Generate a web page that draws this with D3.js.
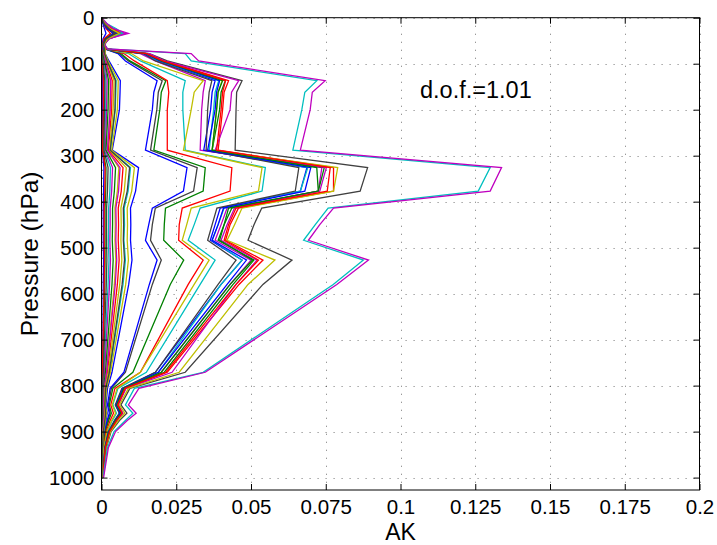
<!DOCTYPE html>
<html>
<head>
<meta charset="utf-8">
<script src="https://cdn.jsdelivr.net/npm/d3@7"></script>
<style>
  body { margin: 0; background: #fff; }
  svg { display: block; font-family: "Liberation Sans", Arial, Helvetica, sans-serif; }
</style>
</head>
<body>
<svg id="chart" width="717" height="545"></svg>
<script>
// Pressure levels (hPa) shared by every kernel row
const pressure = [0, 14, 24, 34, 46, 58, 68, 78, 94, 137, 162, 200, 288, 326, 377, 414, 450, 484, 527, 580, 771, 806, 842, 860, 876, 900, 935, 1000];

const xTicks = [0, 0.025, 0.05, 0.075, 0.1, 0.125, 0.15, 0.175, 0.2];
const yTicks = [0, 100, 200, 300, 400, 500, 600, 700, 800, 900, 1000];
const dofText = "d.o.f.=1.01";

// Averaging kernel rows, one per retrieval level
const akRows = [
  [0, 0.0005, 0.001, 0.0015, 0.0005, 0.0003, 0.0003, 0.0002, 0.0003, 0.0004, 0.0004, 0.0004, 0.0003, 0.0008, 0.0007, 0.0006, 0.0006, 0.0006, 0.0007, 0.0006, 0.0004, 0.0003, 0.0003, 0.0003, 0.0003, 0.0002, 0.0001, 0],
  [0, 0.001, 0.002, 0.004, 0.001, 0.0005, 0.001, 0.0003, 0.0004, 0.0008, 0.0008, 0.0007, 0.0005, 0.0015, 0.0014, 0.0012, 0.0012, 0.0012, 0.0012, 0.0011, 0.0004, 0.0003, 0.0002, 0.0003, 0.0002, 0.0001, 0.0001, 0],
  [0, 0.0008, 0.0015, 0.003, 0.0008, 0.0004, 0.0006, 0.0002, 0.0003, 0.0006, 0.0006, 0.0006, 0.0004, 0.0012, 0.0011, 0.0009, 0.0009, 0.0009, 0.001, 0.0009, 0.0003, 0.0002, 0.0002, 0.0002, 0.0002, 0.0001, 0.0001, 0],
  [0, 0.001, 0.003, 0.005, 0.0015, 0.0006, 0.001, 0.0005, 0.0008, 0.0015, 0.0015, 0.0014, 0.001, 0.003, 0.0028, 0.0024, 0.0024, 0.0023, 0.0025, 0.0022, 0.0008, 0.0005, 0.0004, 0.0005, 0.0004, 0.0002, 0.0001, 0],
  [0, 0.0015, 0.0035, 0.006, 0.002, 0.0008, 0.0012, 0.0006, 0.001, 0.0019, 0.0018, 0.0017, 0.0013, 0.0037, 0.0034, 0.0029, 0.0029, 0.0028, 0.003, 0.0027, 0.001, 0.0006, 0.0004, 0.0006, 0.0005, 0.0003, 0.0002, 0.0001],
  [0, 0.001, 0.003, 0.0055, 0.002, 0.0008, 0.0012, 0.0008, 0.0012, 0.0029, 0.0029, 0.0028, 0.002, 0.0058, 0.0053, 0.0045, 0.0046, 0.0045, 0.0048, 0.0043, 0.0016, 0.0009, 0.0007, 0.0009, 0.0007, 0.0004, 0.0002, 0.0001],
  [0, 0.0008, 0.002, 0.004, 0.0012, 0.0005, 0.0008, 0.0003, 0.0005, 0.0011, 0.0011, 0.001, 0.0008, 0.0022, 0.002, 0.0017, 0.0017, 0.0017, 0.0018, 0.0016, 0.0006, 0.0003, 0.0003, 0.0003, 0.0003, 0.0002, 0.0001, 0],
  [0, 0.001, 0.002, 0.004, 0.0015, 0.0008, 0.001, 0.0012, 0.0025, 0.0063, 0.0062, 0.006, 0.0036, 0.0124, 0.0114, 0.0097, 0.0098, 0.0097, 0.0102, 0.0091, 0.0035, 0.002, 0.0015, 0.0019, 0.0015, 0.0008, 0.0005, 0.0002],
  [0, 0.001, 0.0025, 0.005, 0.0015, 0.0006, 0.001, 0.0005, 0.001, 0.0024, 0.0023, 0.0022, 0.0015, 0.0047, 0.0043, 0.0037, 0.0037, 0.0036, 0.0039, 0.0035, 0.0013, 0.0007, 0.0006, 0.0007, 0.0006, 0.0003, 0.0002, 0.0001],
  [0, 0.0012, 0.003, 0.006, 0.002, 0.0008, 0.0012, 0.0008, 0.0015, 0.0036, 0.0035, 0.0034, 0.0023, 0.0072, 0.0066, 0.0056, 0.0057, 0.0056, 0.0059, 0.0053, 0.002, 0.0011, 0.0009, 0.0011, 0.0009, 0.0005, 0.0003, 0.0001],
  [0, 0.001, 0.0025, 0.005, 0.0018, 0.0007, 0.001, 0.001, 0.002, 0.0049, 0.0048, 0.0046, 0.003, 0.0097, 0.0089, 0.0076, 0.0077, 0.0075, 0.008, 0.0072, 0.0027, 0.0015, 0.0012, 0.0015, 0.0012, 0.0006, 0.0004, 0.0001],
  [0, 0.0015, 0.004, 0.007, 0.0025, 0.001, 0.0015, 0.0008, 0.0013, 0.0031, 0.003, 0.0029, 0.002, 0.0062, 0.0057, 0.0048, 0.0049, 0.0048, 0.0051, 0.0046, 0.0017, 0.0009, 0.0007, 0.0009, 0.0007, 0.0004, 0.0002, 0.0001],
  [0, 0.001, 0.003, 0.0055, 0.002, 0.0008, 0.0012, 0.001, 0.0018, 0.0042, 0.0041, 0.0039, 0.0027, 0.0083, 0.0076, 0.0065, 0.0066, 0.0065, 0.0068, 0.0061, 0.0023, 0.0012, 0.001, 0.0012, 0.001, 0.0005, 0.0003, 0.0001],
  [0, 0.001, 0.003, 0.006, 0.002, 0.001, 0.0015, 0.006, 0.009, 0.0203, 0.019, 0.0185, 0.0164, 0.032, 0.0308, 0.018, 0.017, 0.0164, 0.02, 0.017, 0.008, 0.0033, 0.0023, 0.0029, 0.0021, 0.0011, 0.0006, 0.0002],
  [0, 0.0008, 0.002, 0.005, 0.0015, 0.0008, 0.0012, 0.0055, 0.008, 0.0186, 0.0175, 0.017, 0.0147, 0.0286, 0.0274, 0.017, 0.0158, 0.0147, 0.0186, 0.016, 0.0075, 0.0029, 0.002, 0.0026, 0.0019, 0.001, 0.0005, 0.0002],
  [0, 0.001, 0.0025, 0.0055, 0.0018, 0.0008, 0.0012, 0.0065, 0.0095, 0.0215, 0.02, 0.0195, 0.0175, 0.0347, 0.034, 0.0214, 0.021, 0.0208, 0.0275, 0.023, 0.0105, 0.0038, 0.0026, 0.0033, 0.0024, 0.0013, 0.0007, 0.0002],
  [0, 0.0012, 0.003, 0.006, 0.002, 0.001, 0.0015, 0.0075, 0.011, 0.022, 0.0225, 0.022, 0.022, 0.0436, 0.043, 0.027, 0.026, 0.0258, 0.034, 0.029, 0.013, 0.0045, 0.0031, 0.004, 0.0029, 0.0015, 0.0008, 0.0002],
  [0, 0.001, 0.003, 0.0065, 0.002, 0.001, 0.0015, 0.009, 0.013, 0.028, 0.0272, 0.0272, 0.028, 0.0548, 0.0537, 0.033, 0.031, 0.029, 0.038, 0.033, 0.015, 0.0055, 0.0038, 0.005, 0.0036, 0.0019, 0.0009, 0.0003],
  [0, 0.0015, 0.004, 0.008, 0.0025, 0.001, 0.0018, 0.013, 0.018, 0.0347, 0.034, 0.0335, 0.033, 0.0737, 0.0725, 0.042, 0.04, 0.038, 0.05, 0.043, 0.02, 0.0075, 0.005, 0.0066, 0.0048, 0.0026, 0.0013, 0.0004],
  [0, 0.0012, 0.0035, 0.007, 0.0022, 0.001, 0.0015, 0.01, 0.014, 0.034, 0.031, 0.03, 0.0274, 0.0537, 0.0525, 0.03, 0.0285, 0.027, 0.036, 0.031, 0.013, 0.0052, 0.0036, 0.0047, 0.0034, 0.0018, 0.0009, 0.0003],
  [0, 0.0012, 0.003, 0.006, 0.002, 0.001, 0.0015, 0.016, 0.022, 0.047, 0.0452, 0.045, 0.0447, 0.089, 0.0865, 0.0536, 0.051, 0.049, 0.0637, 0.054, 0.028, 0.0095, 0.0065, 0.0085, 0.006, 0.0032, 0.0016, 0.0005],
  [0, 0.001, 0.0025, 0.005, 0.0018, 0.0008, 0.0012, 0.014, 0.019, 0.038, 0.037, 0.0365, 0.0342, 0.0687, 0.0665, 0.0397, 0.038, 0.0364, 0.047, 0.04, 0.018, 0.007, 0.0048, 0.006, 0.0045, 0.0024, 0.0012, 0.0003],
  [0, 0.0012, 0.003, 0.006, 0.002, 0.001, 0.0015, 0.015, 0.02, 0.0414, 0.04, 0.0395, 0.037, 0.0745, 0.0725, 0.0436, 0.041, 0.039, 0.051, 0.044, 0.021, 0.0078, 0.0053, 0.0068, 0.0049, 0.0027, 0.0013, 0.0004],
  [0, 0.0012, 0.0035, 0.007, 0.002, 0.001, 0.0015, 0.015, 0.021, 0.0425, 0.041, 0.0405, 0.039, 0.0776, 0.0776, 0.0458, 0.043, 0.0415, 0.054, 0.046, 0.022, 0.008, 0.0055, 0.007, 0.005, 0.0028, 0.0014, 0.0004],
  [0, 0.001, 0.003, 0.0055, 0.0018, 0.0008, 0.0012, 0.014, 0.019, 0.0392, 0.038, 0.0375, 0.036, 0.069, 0.0665, 0.041, 0.039, 0.037, 0.047, 0.04, 0.019, 0.007, 0.0048, 0.0062, 0.0045, 0.0024, 0.0012, 0.0003],
  [0, 0.0015, 0.004, 0.0075, 0.0025, 0.001, 0.0018, 0.016, 0.021, 0.0459, 0.0435, 0.043, 0.038, 0.0752, 0.073, 0.0445, 0.042, 0.04, 0.052, 0.045, 0.0236, 0.0082, 0.0056, 0.0072, 0.0052, 0.0028, 0.0014, 0.0004],
  [0, 0.0012, 0.003, 0.006, 0.002, 0.001, 0.0015, 0.015, 0.02, 0.0403, 0.039, 0.0385, 0.037, 0.079, 0.0776, 0.047, 0.0445, 0.042, 0.058, 0.049, 0.026, 0.009, 0.006, 0.0078, 0.0056, 0.003, 0.0015, 0.0004],
  [0, 0.001, 0.0025, 0.005, 0.0015, 0.0008, 0.0012, 0.014, 0.018, 0.0369, 0.036, 0.0355, 0.035, 0.066, 0.0648, 0.0386, 0.037, 0.0355, 0.045, 0.039, 0.018, 0.0068, 0.0046, 0.006, 0.0043, 0.0023, 0.0011, 0.0003],
  [0, 0.001, 0.0028, 0.0055, 0.0018, 0.0008, 0.0012, 0.0145, 0.0195, 0.0395, 0.0385, 0.038, 0.0355, 0.07, 0.068, 0.0408, 0.039, 0.037, 0.0485, 0.042, 0.019, 0.0072, 0.0049, 0.0063, 0.0046, 0.0025, 0.0012, 0.0003],
  [0, 0.0012, 0.003, 0.006, 0.002, 0.001, 0.0014, 0.015, 0.02, 0.0405, 0.039, 0.0385, 0.037, 0.072, 0.0725, 0.0425, 0.041, 0.0395, 0.0505, 0.043, 0.02, 0.0075, 0.0051, 0.0066, 0.0047, 0.0026, 0.0013, 0.0004],
  [0, 0.0012, 0.0032, 0.0065, 0.002, 0.001, 0.0015, 0.015, 0.0205, 0.0415, 0.0405, 0.04, 0.0385, 0.0765, 0.0755, 0.045, 0.0425, 0.041, 0.0525, 0.045, 0.0215, 0.0079, 0.0054, 0.0069, 0.005, 0.0027, 0.0013, 0.0004],
  [0, 0.002, 0.005, 0.007, 0.002, 0.001, 0.002, 0.028, 0.03, 0.072, 0.068, 0.067, 0.064, 0.13, 0.126, 0.0758, 0.0715, 0.0676, 0.0876, 0.0775, 0.034, 0.011, 0.008, 0.0105, 0.008, 0.0042, 0.002, 0.0005],
  [0, 0.002, 0.004, 0.009, 0.002, 0.001, 0.002, 0.03, 0.0325, 0.0748, 0.0705, 0.0698, 0.0665, 0.1338, 0.13, 0.0776, 0.073, 0.0692, 0.0893, 0.0787, 0.0347, 0.0125, 0.009, 0.0116, 0.0086, 0.0047, 0.0023, 0.0007],
  [0, 0.0012, 0.003, 0.006, 0.002, 0.0008, 0.0012, 0.0012, 0.0022, 0.0056, 0.0055, 0.0053, 0.0034, 0.011, 0.0101, 0.0086, 0.0087, 0.0086, 0.009, 0.0081, 0.003, 0.0017, 0.0013, 0.0017, 0.0013, 0.0007, 0.0004, 0.0002],
  [0, 0.001, 0.0025, 0.0045, 0.0015, 0.0007, 0.001, 0.001, 0.0019, 0.0047, 0.0046, 0.0045, 0.0029, 0.0094, 0.0086, 0.0073, 0.0074, 0.0073, 0.0077, 0.0069, 0.0026, 0.0014, 0.0011, 0.0014, 0.0011, 0.0006, 0.0003, 0.0001]
];

// classic MATLAB line colour order
const colorOrder = ["#0000ff", "#008000", "#ff0000", "#00bfbf", "#bf00bf", "#bfbf00", "#404040"];

const W = 717, H = 545;
const plot = { left: 101.5, right: 699.5, top: 17.7, bottom: 490 };

const svg = d3.select("#chart");

const x = d3.scaleLinear().domain([0, 0.2]).range([plot.left, plot.right]);
const y = d3.scaleLinear().domain([0, 1027]).range([plot.top, plot.bottom]);
const color = d3.scaleOrdinal().domain(d3.range(colorOrder.length)).range(colorOrder);

svg.append("rect").attr("width", W).attr("height", H).attr("fill", "#fff");

// dotted grid
const grid = svg.append("g")
  .attr("stroke", "#000").attr("stroke-opacity", 0.45)
  .attr("stroke-width", 1).attr("stroke-dasharray", "1.2,6.8");
grid.selectAll("line.v").data(xTicks).join("line")
  .attr("class", "v")
  .attr("x1", d => Math.round(x(d)) + 0.5).attr("x2", d => Math.round(x(d)) + 0.5)
  .attr("y1", plot.top).attr("y2", plot.bottom);
grid.selectAll("line.h").data(yTicks).join("line")
  .attr("class", "h")
  .attr("x1", plot.left).attr("x2", plot.right)
  .attr("y1", d => Math.round(y(d)) + 0.5).attr("y2", d => Math.round(y(d)) + 0.5);

// kernel lines
svg.append("clipPath").attr("id", "clip")
  .append("rect")
  .attr("x", plot.left).attr("y", plot.top)
  .attr("width", plot.right - plot.left).attr("height", plot.bottom - plot.top);

const line = d3.line()
  .x(d => x(d[0]))
  .y(d => y(d[1]));

svg.append("g").attr("clip-path", "url(#clip)")
  .selectAll("path").data(akRows).join("path")
  .attr("d", row => line(row.map((v, i) => [v, pressure[i]])))
  .attr("fill", "none")
  .attr("stroke", (_, i) => color(i % colorOrder.length))
  .attr("stroke-width", 1.3)
  .attr("stroke-linejoin", "miter");

// axes, ticks pointing inward
const fmt = d => String(d);
svg.append("g").attr("transform", `translate(0,${plot.bottom})`)
  .call(d3.axisBottom(x).tickValues(xTicks).tickFormat(fmt).tickSize(-6).tickSizeOuter(0).tickPadding(9))
  .call(g => g.select(".domain").remove());
svg.append("g").attr("transform", `translate(0,${plot.top})`)
  .call(d3.axisTop(x).tickValues(xTicks).tickFormat("").tickSize(-6).tickSizeOuter(0))
  .call(g => g.select(".domain").remove());
svg.append("g").attr("transform", `translate(${plot.left},0)`)
  .call(d3.axisLeft(y).tickValues(yTicks).tickFormat(fmt).tickSize(-6).tickSizeOuter(0).tickPadding(7))
  .call(g => g.select(".domain").remove());
svg.append("g").attr("transform", `translate(${plot.right},0)`)
  .call(d3.axisRight(y).tickValues(yTicks).tickFormat("").tickSize(-6).tickSizeOuter(0))
  .call(g => g.select(".domain").remove());

svg.selectAll(".tick line").attr("stroke", "#000").attr("stroke-width", 1);
svg.selectAll(".tick text")
  .attr("font-family", "'Liberation Sans', Arial, sans-serif")
  .attr("font-size", 20.5).attr("fill", "#000");

// frame
svg.append("rect")
  .attr("x", plot.left).attr("y", plot.top)
  .attr("width", plot.right - plot.left).attr("height", plot.bottom - plot.top)
  .attr("fill", "none").attr("stroke", "#000").attr("stroke-width", 1);

// labels
svg.append("text")
  .attr("x", (plot.left + plot.right) / 2).attr("y", 539.5)
  .attr("text-anchor", "middle")
  .attr("font-size", 23)
  .text("AK");

svg.append("text")
  .attr("transform", `translate(38,${(plot.top + plot.bottom) / 2}) rotate(-90)`)
  .attr("text-anchor", "middle")
  .attr("font-size", 24.5)
  .text("Pressure (hPa)");

svg.append("text")
  .attr("x", 420).attr("y", 97.5)
  .attr("font-size", 23.5)
  .text(dofText);
</script>
</body>
</html>
